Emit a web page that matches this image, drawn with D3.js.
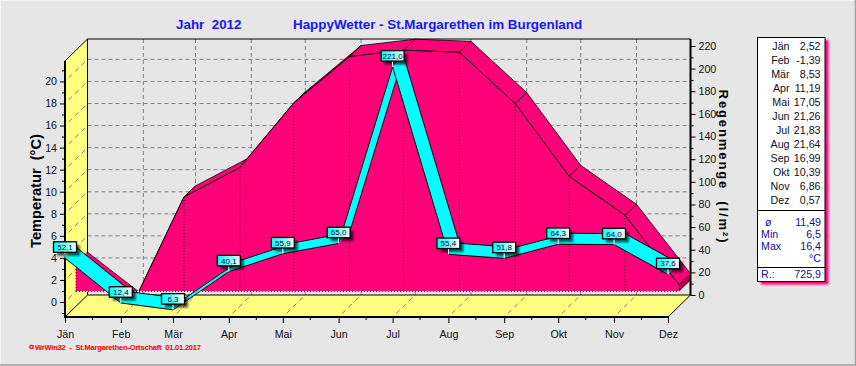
<!DOCTYPE html>
<html>
<head>
<meta charset="utf-8">
<script src="https://d3js.org/d3.v7.min.js"></script>
<style>
body { margin: 0; background: #e6e6e6; }
svg { display: block; }
text { font-family: "Liberation Sans", Arial, sans-serif; }
</style>
</head>
<body>
<script>
var months = ["Jän","Feb","Mär","Apr","Mai","Jun","Jul","Aug","Sep","Okt","Nov","Dez"];
var monthStart = [0,1,2,3,4,5,6,7,8,9,10,11].map(function(m){ return new Date(Date.UTC(2012, m, 1)); });
var monthMid = [0,1,2,3,4,5,6,7,8,9,10].map(function(m){ return new Date(Date.UTC(2012, m, 16)); });
var temps = [2.52,-1.39,8.53,11.19,17.05,21.26,21.83,21.64,16.99,10.39,6.86,0.57];
var rain = [52.1,12.4,6.3,40.1,55.9,65.0,221.0,55.4,51.8,64.3,64.0,37.6];
var tempTicks = [0,2,4,6,8,10,12,14,16,18,20];
var tempMinor = [-1,1,3,5,7,9,11,13,15,17,19,21];
var rainTicks = [0,20,40,60,80,100,120,140,160,180,200,220];
var rainMinor = [10,30,50,70,90,110,130,150,170,190,210];
var statNames = ["ø","Min","Max"];
var statValues = ["11,49","6,5","16,4"];

var comma = function(v, n){ return v.toFixed(n).replace(".", ","); };

var width = 856, height = 366;
var svg = d3.select("body").append("svg").attr("width", width).attr("height", height);

var x = d3.scaleUtc().domain([monthStart[0], monthStart[11]]).range([65, 668]);
var yT = d3.scaleLinear().domain([0, 20]).range([302, 81.4]);
var yR = d3.scaleLinear().domain([0, 220]).range([317, 68]);

// depth of the 3d box
var mid = {dx: 11, dy: -11}, back = {dx: 22.5, dy: -22};
var plotL = 65, plotR = 668, plotB = 317, plotT = 61;
var axisFont = 10.67;

var defs = svg.append("defs");
defs.append("clipPath").attr("id", "base").append("rect")
    .attr("x", 0).attr("y", 0).attr("width", width).attr("height", 291);
var grad = defs.append("linearGradient").attr("id", "box");
grad.append("stop").attr("offset", "0%").attr("stop-color", "#00ffff");
grad.append("stop").attr("offset", "55%").attr("stop-color", "#80ffff");
grad.append("stop").attr("offset", "100%").attr("stop-color", "#ffffff");
defs.append("filter").attr("id", "blur").append("feGaussianBlur").attr("stdDeviation", 1);

// window edge
svg.append("rect").attr("width", width).attr("height", height).attr("fill", "#e6e6e6");
svg.append("path").attr("d", "M0.5,365V0.5H855").attr("fill", "none").attr("stroke", "#f4f4f4");
svg.append("path").attr("d", "M0,365H855.5V0").attr("fill", "none").attr("stroke", "#a0a0a0").attr("stroke-width", 1.5);

// walls
svg.append("path").attr("fill", "#ffff80")
    .attr("d", d3.line()([[plotL,plotT],[plotL+back.dx,plotT+back.dy],[plotL+back.dx,plotB+back.dy],[plotL,plotB]]) + "Z");
svg.append("path").attr("fill", "#ffff80")
    .attr("d", d3.line()([[plotL,plotB],[plotR,plotB],[plotR+back.dx,plotB+back.dy],[plotL+back.dx,plotB+back.dy]]) + "Z");

// grid
var gridDash = "4,3";
var grid = svg.append("g").attr("fill", "none").attr("stroke", "#808080");
grid.selectAll(".h").data(tempTicks.slice(1)).enter().append("line")
    .attr("x1", plotL+back.dx).attr("x2", plotR+back.dx)
    .attr("y1", function(d){ return yT(d)+back.dy; }).attr("y2", function(d){ return yT(d)+back.dy; })
    .attr("stroke-dasharray", gridDash);
grid.selectAll(".v").data(monthStart.slice(1, 11)).enter().append("line")
    .attr("x1", function(d){ return x(d)+back.dx; }).attr("x2", function(d){ return x(d)+back.dx; })
    .attr("y1", plotT+back.dy).attr("y2", plotB+back.dy)
    .attr("stroke-dasharray", gridDash);
grid.selectAll(".lw").data(tempTicks).enter().append("line")
    .attr("x1", plotL).attr("x2", plotL+back.dx)
    .attr("y1", function(d){ return yT(d); }).attr("y2", function(d){ return yT(d)+back.dy; })
    .attr("stroke-dasharray", "5,4").attr("stroke-dashoffset", -5);
grid.selectAll(".fl").data(monthStart.slice(1, 11)).enter().append("line")
    .attr("x1", function(d){ return x(d); }).attr("x2", function(d){ return x(d)+back.dx; })
    .attr("y1", plotB).attr("y2", plotB+back.dy)
    .attr("stroke-dasharray", "5,4").attr("stroke-dashoffset", -5);

// box outline behind the data
var outline = svg.append("g").attr("fill", "none").attr("stroke", "#000");
outline.append("path").attr("d", d3.line()([[plotL,plotB],[plotL+back.dx,plotB+back.dy],[plotR+back.dx,plotB+back.dy]]));
outline.append("path").attr("d", d3.line()([[plotL,plotT],[plotL+back.dx,plotT+back.dy],[plotL+back.dx,plotB+back.dy]]));
outline.append("path").attr("d", d3.line()([[plotR,plotB],[plotR+back.dx,plotB+back.dy]]));

// temperature as a band in the middle of the box
var pink = "#ff0078";
var tempG = svg.append("g").attr("clip-path", "url(#base)");
var tp = function(i, o){ return [x(monthStart[i])+o.dx, yT(temps[i])+o.dy]; };
var bandIdx = d3.range(temps.length-1);
tempG.selectAll(".band").data(bandIdx).enter().append("path")
    .attr("fill", pink).attr("stroke", "#000").attr("stroke-width", 0.8)
    .attr("d", function(i){ return d3.line()([tp(i,mid),tp(i+1,mid),tp(i+1,back),tp(i,back)]) + "Z"; });
// closing side in Dezember
tempG.append("path").attr("fill", "#a8004f").attr("stroke", "#000").attr("stroke-width", 0.8)
    .attr("d", d3.line()([[x(monthStart[11])+mid.dx,291],tp(11,mid),tp(11,back),[x(monthStart[11])+back.dx,280]]) + "Z");
var face = temps.map(function(t, i){ return tp(i, mid); });
tempG.append("path").attr("fill", pink)
    .attr("d", d3.line()([[face[0][0],291]].concat(face, [[face[11][0],291]])) + "Z");
tempG.append("path").attr("fill", "none").attr("stroke", "#000").attr("d", d3.line()(face));
tempG.selectAll(".drop").data(bandIdx.slice(2)).enter().append("line")
    .attr("x1", function(i){ return face[i][0]; }).attr("x2", function(i){ return face[i][0]; })
    .attr("y1", function(i){ return face[i][1]; }).attr("y2", 291)
    .attr("stroke", "#000").attr("stroke-dasharray", "1,2");
tempG.append("line").attr("x1", face[11][0]).attr("x2", face[11][0]).attr("y1", face[11][1]).attr("y2", 291)
    .attr("stroke", "#000").attr("stroke-dasharray", "1,2");
tempG.append("line").attr("x1", face[0][0]).attr("x2", face[0][0]).attr("y1", face[0][1]).attr("y2", 291)
    .attr("stroke", "#000").attr("stroke-dasharray", "1,2");
svg.append("line").attr("x1", face[0][0]).attr("x2", face[11][0]).attr("y1", 291.5).attr("y2", 291.5)
    .attr("stroke", "#fff");
svg.append("line").attr("x1", face[0][0]).attr("x2", face[11][0]).attr("y1", 291.5).attr("y2", 291.5)
    .attr("stroke", "#000").attr("stroke-dasharray", "1,2");

// rain as a band from the front to the middle
var rp = function(i, o){ return [x(monthStart[i])+o.dx, yR(rain[i])+o.dy]; };
var none = {dx: 0, dy: 0};
var rainG = svg.append("g");
bandIdx.forEach(function(i){
    rainG.append("path").attr("fill", "#00ffff")
        .attr("d", d3.line()([rp(i,none),rp(i+1,none),rp(i+1,mid),rp(i,mid)]) + "Z");
    rainG.append("path").attr("fill", "none").attr("stroke", "#000").attr("d", d3.line()([rp(i,mid),rp(i+1,mid)]));
    rainG.append("path").attr("fill", "none").attr("stroke", "#000").attr("d", d3.line()([rp(i,none),rp(i+1,none)]));
});

// axes
var axisLeft = d3.axisLeft(yT).tickValues(tempTicks).tickSize(5).tickPadding(3).tickFormat(d3.format("d"));
var axisRight = d3.axisRight(yR).tickValues(rainTicks).tickSize(5).tickPadding(3).tickFormat(d3.format("d"));
var axisBottom = d3.axisBottom(x).tickValues(monthStart).tickSize(6).tickPadding(7)
    .tickFormat(function(d, i){ return months[i]; });

function styleAxis(g){
    g.select(".domain").remove();
    g.selectAll("text").attr("font-size", axisFont).attr("fill", "#101020")
        .attr("font-family", "Liberation Sans");
}
svg.append("g").attr("transform", "translate(" + plotL + ",0)").call(axisLeft).call(styleAxis);
svg.append("g").attr("transform", "translate(" + (plotR+back.dx) + "," + back.dy + ")").call(axisRight).call(styleAxis);
svg.append("g").attr("transform", "translate(0," + plotB + ")").call(axisBottom).call(styleAxis);

svg.append("g").attr("transform", "translate(" + plotL + ",0)")
    .call(d3.axisLeft(yT).tickValues(tempMinor).tickSize(3).tickFormat("")).call(styleAxis);
svg.append("g").attr("transform", "translate(" + (plotR+back.dx) + "," + back.dy + ")")
    .call(d3.axisRight(yR).tickValues(rainMinor).tickSize(3).tickFormat("")).call(styleAxis);
svg.append("g").attr("transform", "translate(0," + plotB + ")")
    .call(d3.axisBottom(x).tickValues(monthMid).tickSize(3).tickFormat("")).call(styleAxis);

// thick frame lines
var frame = svg.append("g").attr("fill", "none").attr("stroke", "#000");
frame.append("path").attr("stroke-width", 2).attr("d", d3.line()([[plotL,plotT],[plotL,plotB],[plotR,plotB]]));
frame.append("path").attr("stroke-width", 2).attr("d", d3.line()([[plotR+back.dx,plotT+back.dy],[plotR+back.dx,plotB+back.dy]]));
frame.append("path").attr("stroke-width", 1).attr("d", d3.line()([[plotL+back.dx,plotT+back.dy],[plotR+back.dx,plotT+back.dy]]));

// value boxes
var boxW = 23, boxH = 10.5;
var labels = svg.selectAll(".lab").data(rain).enter().append("g")
    .attr("transform", function(d, i){ return "translate(" + x(monthStart[i]) + "," + (yR(d)-11) + ")"; });
labels.append("rect").attr("x", -boxW/2+3.5).attr("y", -boxH/2+3.5).attr("width", boxW).attr("height", boxH)
    .attr("fill", "#000").attr("opacity", 0.65).attr("filter", "url(#blur)");
labels.append("line").attr("x1", 0).attr("x2", 0).attr("y1", boxH/2).attr("y2", 11).attr("stroke", "#fff");
labels.append("rect").attr("x", -boxW/2).attr("y", -boxH/2).attr("width", boxW).attr("height", boxH)
    .attr("fill", "url(#box)").attr("stroke", "#000").attr("stroke-width", 1.3);
labels.append("text").attr("y", 3).attr("text-anchor", "middle").attr("font-size", 8).attr("fill", "#000020")
    .text(function(d){ return comma(d, 1); });

// titles
svg.append("text").attr("x", 176).attr("y", 29).attr("font-size", 13.4).attr("font-weight", "bold")
    .attr("fill", "#1818f0").style("white-space", "pre").text("Jahr  2012");
svg.append("text").attr("x", 293).attr("y", 29).attr("font-size", 13.4).attr("font-weight", "bold")
    .attr("fill", "#1818f0").text("HappyWetter - St.Margarethen im Burgenland");
svg.append("text").attr("transform", "translate(41,191) rotate(-90)").attr("text-anchor", "middle")
    .attr("font-size", 14.67).attr("font-weight", "bold").style("white-space", "pre").text("Temperatur  (°C)");
svg.append("text").attr("transform", "translate(719,167) rotate(90)").attr("text-anchor", "middle")
    .attr("font-size", 13).attr("font-weight", "bold").attr("letter-spacing", 1.9).style("white-space", "pre").text("Regenmenge  (l/m²)");

svg.append("circle").attr("cx", 31.5).attr("cy", 347).attr("r", 1.7).attr("fill", "none").attr("stroke", "#f00000").attr("stroke-width", 1.2);
svg.append("text").attr("x", 35).attr("y", 350).attr("font-size", 7.5).attr("font-family", "DejaVu Sans").attr("font-weight", "bold")
    .attr("fill", "#f00000").attr("textLength", 166).attr("lengthAdjust", "spacing").style("white-space", "pre")
    .text("WrWin32  -  St.Margarethen-Ortschaft  01.01.2017");

// legend panel
var panel = svg.append("g");
panel.append("rect").attr("x", 761).attr("y", 40).attr("width", 67.5).attr("height", 244.5).attr("fill", pink).attr("filter", "url(#blur)");
panel.append("rect").attr("x", 757.5).attr("y", 37.5).attr("width", 67.5).attr("height", 244).attr("fill", "#fff").attr("stroke", "#000");
panel.append("line").attr("x1", 757.5).attr("x2", 825).attr("y1", 210.5).attr("y2", 210.5).attr("stroke", "#000");
panel.append("line").attr("x1", 757.5).attr("x2", 825).attr("y1", 267.5).attr("y2", 267.5).attr("stroke", "#000");
var rowY = d3.scalePoint().domain(months).range([50, 204]);
panel.selectAll(".m").data(months).enter().append("text")
    .attr("x", 789.5).attr("y", function(d){ return rowY(d); }).attr("text-anchor", "end").attr("font-size", axisFont).attr("fill", "#101020").text(function(d){ return d; });
panel.selectAll(".v").data(temps).enter().append("text")
    .attr("x", 820.5).attr("y", function(d, i){ return rowY(months[i]); }).attr("text-anchor", "end").attr("font-size", axisFont).attr("fill", "#101020").text(function(d){ return comma(d, 2); });
var statY = [226, 237.5, 249.5];
panel.selectAll(".s").data(statNames).enter().append("text")
    .attr("x", function(d, i){ return i === 0 ? 765 : 761; }).attr("y", function(d, i){ return statY[i]; }).attr("font-size", axisFont).attr("fill", "#101090").text(function(d){ return d; });
panel.selectAll(".sv").data(statValues).enter().append("text")
    .attr("x", 821).attr("y", function(d, i){ return statY[i]; }).attr("text-anchor", "end").attr("font-size", axisFont).attr("fill", "#101090").text(function(d){ return d; });
panel.append("text").attr("x", 821).attr("y", 261.5).attr("text-anchor", "end").attr("font-size", axisFont).attr("fill", "#101090").text("°C");
panel.append("text").attr("x", 761).attr("y", 278).attr("font-size", axisFont).attr("fill", "#101090").text("R.:");
panel.append("text").attr("x", 821).attr("y", 278).attr("text-anchor", "end").attr("font-size", axisFont).attr("fill", "#101090").text(comma(d3.sum(rain), 1));
</script>
</body>
</html>
